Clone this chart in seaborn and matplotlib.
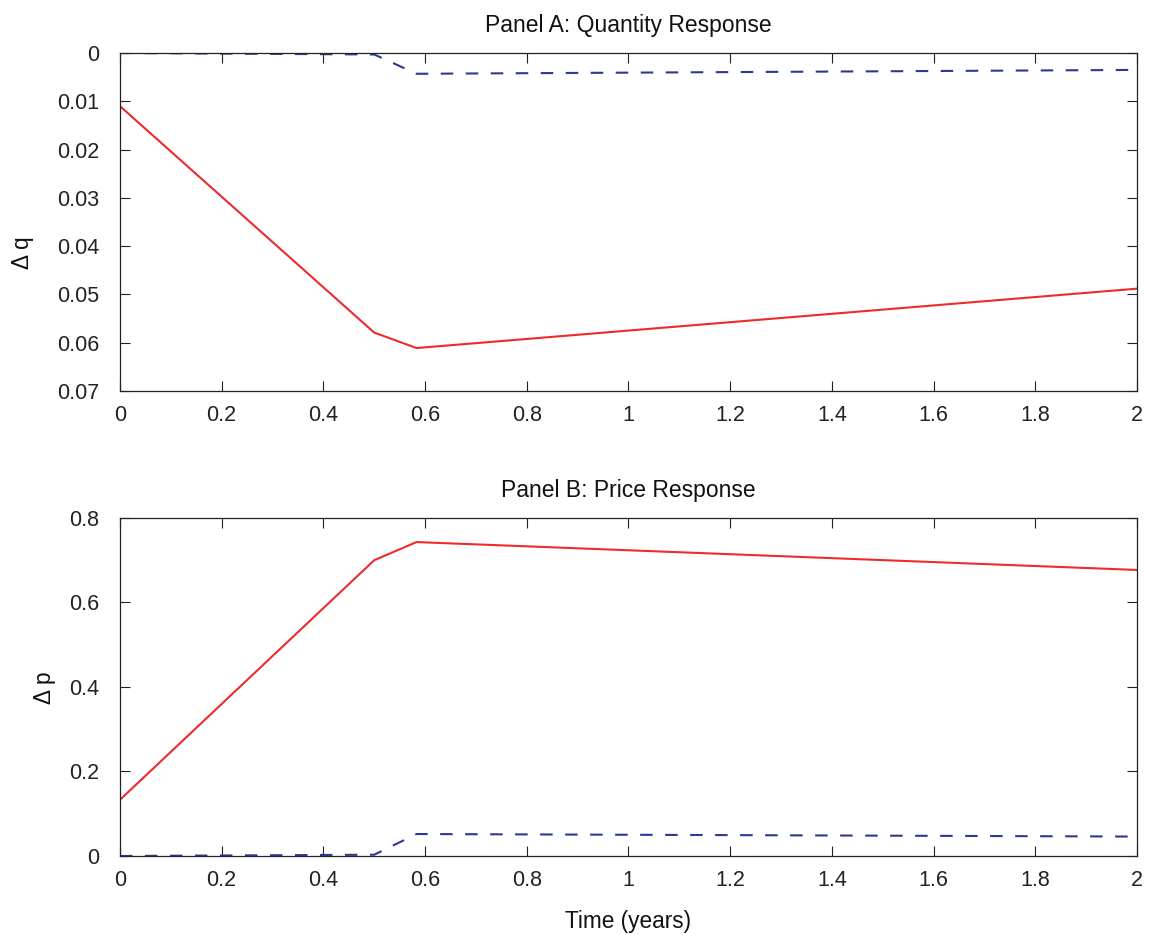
import numpy as np
import pandas as pd
import matplotlib
matplotlib.use("Agg")
import matplotlib.pyplot as plt
import seaborn as sns

# Time grid (years) at which the impulse responses are evaluated
time = [0.0, 0.5, 0.5833, 2.0]

# Panel A: quantity response
dq_full = [0.0110, 0.0579, 0.0611, 0.0488]
dq_base = [0.0000, 0.0003, 0.0043, 0.0035]

# Panel B: price response
dp_full = [0.1330, 0.7000, 0.7430, 0.6770]
dp_base = [0.0000, 0.0030, 0.0520, 0.0460]

x_ticks = [0, 0.2, 0.4, 0.6, 0.8, 1, 1.2, 1.4, 1.6, 1.8, 2]
x_labels = ["0", "0.2", "0.4", "0.6", "0.8", "1", "1.2", "1.4", "1.6", "1.8", "2"]
q_ticks = [0, 0.01, 0.02, 0.03, 0.04, 0.05, 0.06, 0.07]
q_labels = ["0", "0.01", "0.02", "0.03", "0.04", "0.05", "0.06", "0.07"]
p_ticks = [0, 0.2, 0.4, 0.6, 0.8]
p_labels = ["0", "0.2", "0.4", "0.6", "0.8"]

sns.set_style("ticks")
plt.rcParams["font.family"] = ["Liberation Sans", "DejaVu Sans"]
plt.rcParams.update({
    "xtick.direction": "in", "ytick.direction": "in",
    "xtick.top": True, "ytick.right": True,
    "xtick.major.size": 7, "ytick.major.size": 7,
    "xtick.major.width": 0.8, "ytick.major.width": 0.8,
    "axes.linewidth": 0.9, "axes.edgecolor": "#222222",
    "xtick.color": "#222222", "ytick.color": "#222222",
    "text.color": "#111111", "axes.labelcolor": "#111111",
})

FS = 15.5
FS_LABEL = 16.3
RED = "#ee2a2a"
BLUE = "#2b3896"

fig = plt.figure(figsize=(11.5, 9.35), dpi=100)
ax1 = fig.add_axes([0.1043, 0.5818, 0.8844, 0.3615])
ax2 = fig.add_axes([0.1043, 0.0845, 0.8844, 0.3615])

dfq = pd.DataFrame({"t": time, "full": dq_full, "base": dq_base})
dfp = pd.DataFrame({"t": time, "full": dp_full, "base": dp_base})

for ax, df in ((ax1, dfq), (ax2, dfp)):
    sns.lineplot(data=df, x="t", y="base", ax=ax, color=BLUE, lw=1.5,
                 linestyle=(0, (6, 6)))
    sns.lineplot(data=df, x="t", y="full", ax=ax, color=RED, lw=1.5)
    ax.set_xlim(0, 2)
    ax.set_xticks(x_ticks)
    ax.set_xticklabels(x_labels)
    ax.tick_params(axis="x", labelsize=FS, pad=10)
    ax.tick_params(axis="y", labelsize=FS, pad=15)
    for s in ax.spines.values():
        s.set_visible(True)

ax1.set_ylim(0.07, 0)
ax1.set_yticks(q_ticks)
ax1.set_yticklabels(q_labels)
ax1.set_xlabel("")
ax1.set_ylabel("Δ q", fontsize=FS_LABEL)
ax1.yaxis.set_label_coords(-0.0845, 0.408)
ax1.set_title("Panel A: Quantity Response", fontsize=16.5, pad=15)

ax2.set_ylim(0, 0.8)
ax2.set_yticks(p_ticks)
ax2.set_yticklabels(p_labels)
ax2.set_xlabel("Time (years)", fontsize=FS_LABEL, labelpad=14)
ax2.set_ylabel("Δ p", fontsize=FS_LABEL)
ax2.yaxis.set_label_coords(-0.063, 0.497)
ax2.set_title("Panel B: Price Response", fontsize=16.5, pad=15)

fig.savefig("out.png", dpi=100, facecolor="white")
